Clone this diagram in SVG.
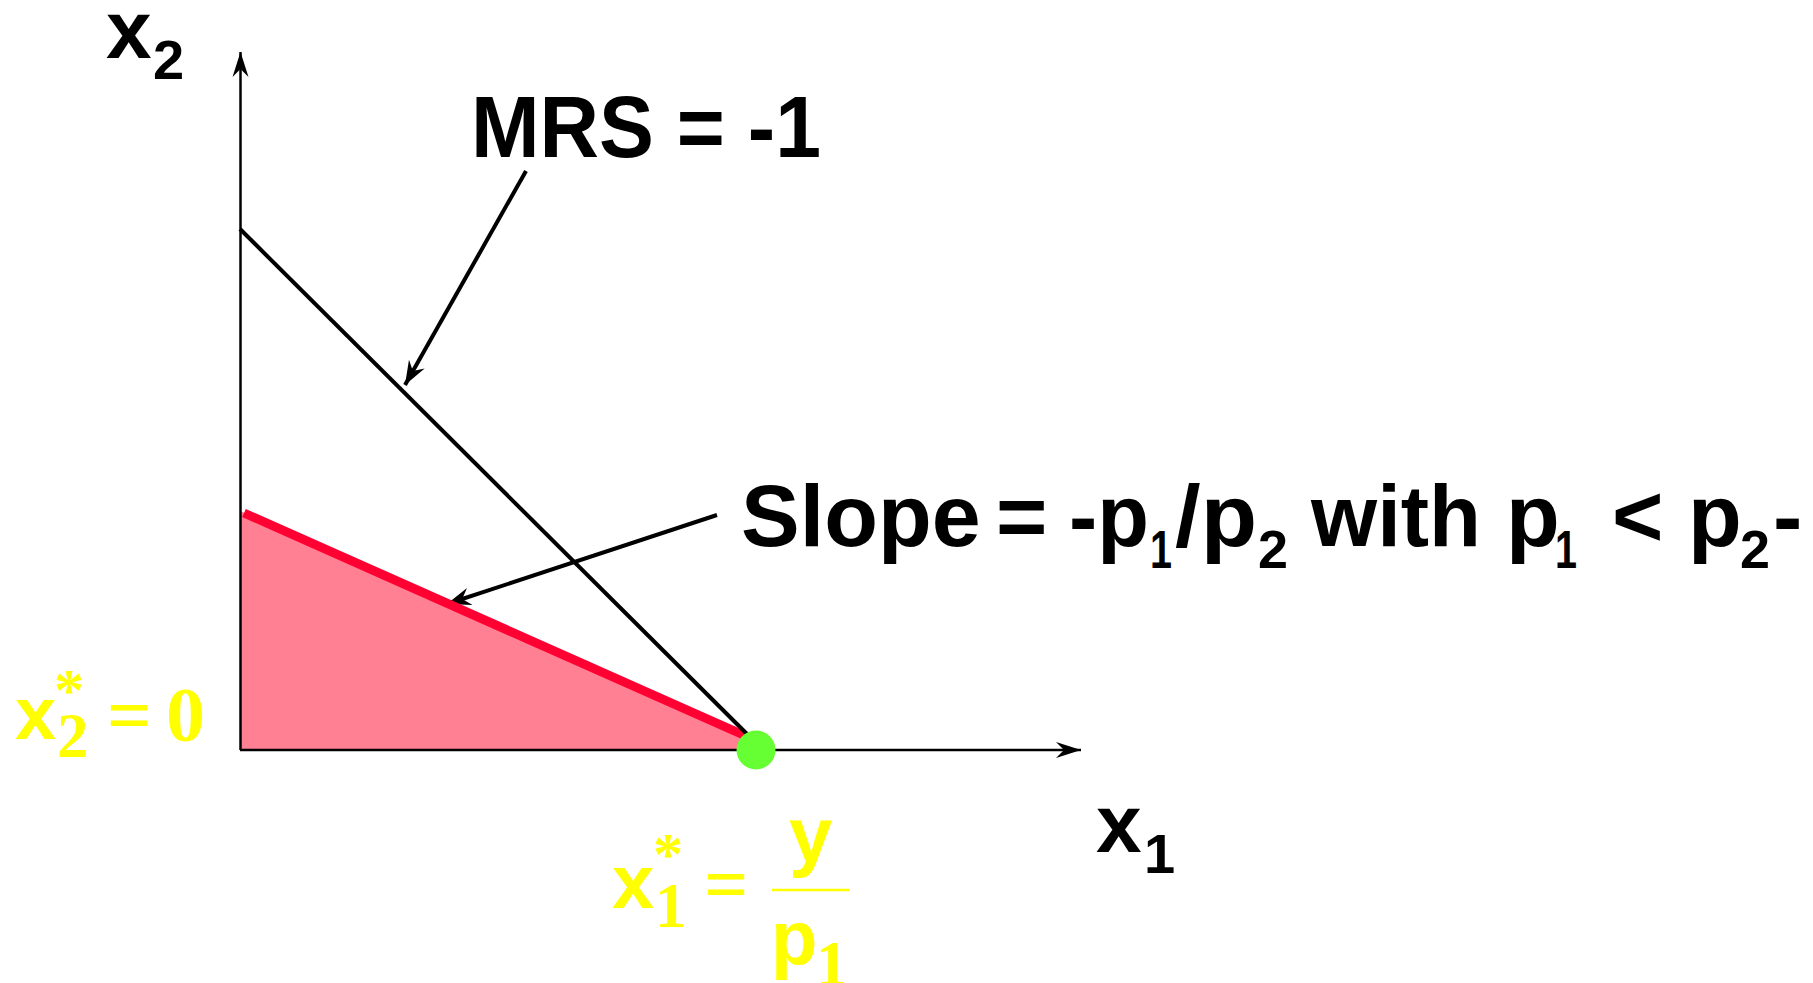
<svg xmlns="http://www.w3.org/2000/svg" width="1813" height="983" viewBox="0 0 1813 983">
<style>
.lbl{font-family:"Liberation Sans",Arial,sans-serif;font-weight:bold;fill:#000}
.ys{font-family:"Liberation Sans",Arial,sans-serif;font-weight:bold;fill:#FFFF00}
.yr{font-family:"Liberation Serif","Times New Roman",serif;font-weight:bold;fill:#FFFF00}
.ax{stroke:#000;stroke-width:2.5;fill:none}
.ptr{stroke:#000;stroke-width:4;fill:none}
</style>
<defs>
<marker id="axh" markerUnits="userSpaceOnUse" viewBox="-26 -10 28 20" refX="0" refY="0" markerWidth="28" markerHeight="20" orient="auto" overflow="visible">
<path d="M0,0 L-25,-8 L-17,0 L-25,8 Z" fill="#000"/>
</marker>
<marker id="pth" markerUnits="userSpaceOnUse" viewBox="-26 -10 28 20" refX="0" refY="0" markerWidth="28" markerHeight="20" orient="auto" overflow="visible">
<path d="M0,0 L-24,-9 L-16,0 L-24,9 Z" fill="#000"/>
</marker>
</defs>
<rect width="1813" height="983" fill="#fff"/>
<g id="feasible-set">
<polygon points="240,511 748,737 756,750 240,750" fill="#FF7F93"/>
</g>
<g id="connectors">
<path class="ax" d="M240.5,750 L240.5,52" marker-end="url(#axh)"/>
<path class="ax" d="M240,750 L1081,750" marker-end="url(#axh)"/>
<path class="ptr" d="M526,171 L405,385" marker-end="url(#pth)"/>
<path class="ptr" d="M717,515 L447,604" marker-end="url(#pth)"/>
</g>
<g id="budget-line">
<line x1="244" y1="513" x2="748" y2="737" stroke="#FF0033" stroke-width="9"/>
</g>
<g id="indifference-line">
<line x1="240" y1="229" x2="750" y2="737" stroke="#000" stroke-width="4"/>
</g>
<g id="optimum">
<circle cx="756" cy="750" r="19.5" fill="#66FF33"/>
</g>
<g id="label-x2">
<text class="lbl" x="106" y="58" font-size="82">x</text>
<text class="lbl" x="153" y="79" font-size="56">2</text>
</g>
<g id="label-x1">
<text class="lbl" x="1096" y="852" font-size="82">x</text>
<text class="lbl" x="1144" y="873" font-size="56">1</text>
</g>
<g id="label-mrs">
<text class="lbl" x="471" y="157" font-size="88" textLength="350" lengthAdjust="spacingAndGlyphs">MRS = -1</text>
</g>
<g id="label-slope">
<text class="lbl" y="546" font-size="88"><tspan x="741">Slope</tspan><tspan x="996">=</tspan><tspan x="1069" textLength="80" lengthAdjust="spacingAndGlyphs">-p</tspan><tspan x="1150" y="568" font-size="54" textLength="22" lengthAdjust="spacingAndGlyphs">1</tspan><tspan x="1175" y="546" textLength="82" lengthAdjust="spacingAndGlyphs">/p</tspan><tspan x="1258" y="568" font-size="54" textLength="30" lengthAdjust="spacingAndGlyphs">2</tspan><tspan x="1311" y="546" textLength="170" lengthAdjust="spacingAndGlyphs">with</tspan><tspan x="1506">p</tspan><tspan x="1555" y="568" font-size="54" textLength="22" lengthAdjust="spacingAndGlyphs">1</tspan><tspan x="1612" y="546">&lt;</tspan><tspan x="1688">p</tspan><tspan x="1740" y="568" font-size="54" textLength="30" lengthAdjust="spacingAndGlyphs">2</tspan><tspan x="1773" y="546">-</tspan></text>
</g>
<g id="label-x2star">
<text class="ys" x="15" y="739" font-size="74">x</text>
<text class="yr" x="54" y="710" font-size="60">*</text>
<text class="yr" x="57" y="757" font-size="63">2</text>
<text class="yr" x="107" y="741" font-size="78">=</text>
<text class="yr" x="166" y="741" font-size="78">0</text>
</g>
<g id="label-x1star">
<text class="ys" x="612" y="908" font-size="76">x</text>
<text class="yr" x="653" y="874" font-size="60">*</text>
<text class="yr" x="655" y="927" font-size="63">1</text>
<text class="yr" x="704" y="910" font-size="78">=</text>
<text class="ys" x="789" y="862" font-size="78">y</text>
<line x1="772" y1="890" x2="849" y2="890" stroke="#FFFF00" stroke-width="2.5"/>
<text class="ys" x="771" y="964" font-size="76">p</text>
<text class="yr" x="816" y="985" font-size="63">1</text>
</g>
</svg>
